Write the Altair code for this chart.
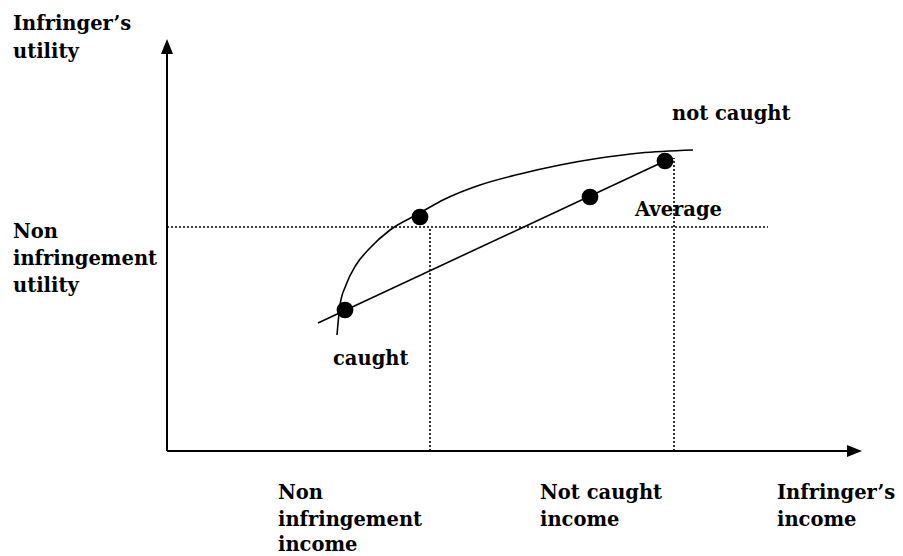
import altair as alt
import pandas as pd

# Concave utility curve (income, utility) in diagram units, origin at the axes' crossing
curve_income = [170, 173, 179, 189, 203, 223, 251, 278, 313, 353, 393, 433, 473, 526]
curve_utility = [116, 146, 166, 186, 203, 221, 237, 252, 266, 277, 286, 293, 298, 301]

# Straight chord between caught and not caught outcomes
chord_income = [151, 498]
chord_utility = [128, 290]

# Dots
dot_income = [178, 253, 423, 498]
dot_utility = [141, 234, 254, 290]

# Reference (dotted) levels
avg_utility_level = 224
avg_line_end = 601
non_infr_income = 263
not_caught_income = 507
not_caught_utility = 293

# Axis extents
x_axis_end = 688
y_axis_end = 406
x_arrow = 687
y_arrow = 404

# Labels
label_text = ["Infringer\u2019s", "utility", "Non", "infringement", "utility",
              "not caught", "Average", "caught",
              "Non", "infringement", "income",
              "Not caught", "income",
              "Infringer\u2019s", "income"]
label_x = [-154, -154, -154, -154, -154, 505, 468, 166, 111, 111, 111, 373, 373, 610, 610]
label_y = [421, 393, 213, 186, 159, 331, 235, 86, -48, -75, -100, -48, -75, -48, -75]

W, H = 887, 548
xs = alt.Scale(domain=[-159, 728])
ys = alt.Scale(domain=[-105, 443])

def X(f):
    return alt.X(f, type="quantitative", scale=xs, axis=None)

def Y(f):
    return alt.Y(f, type="quantitative", scale=ys, axis=None)

curve_df = pd.DataFrame({"x": curve_income, "y": curve_utility})
chord_df = pd.DataFrame({"x": chord_income, "y": chord_utility})
dots_df = pd.DataFrame({"x": dot_income, "y": dot_utility})
labels_df = pd.DataFrame({"x": label_x, "y": label_y, "t": label_text})

hdot_df = pd.DataFrame({"x": [0], "x2": [avg_line_end], "y": [avg_utility_level]})
vdot_df = pd.DataFrame({"x": [non_infr_income, not_caught_income],
                        "y": [0, 0],
                        "y2": [avg_utility_level, not_caught_utility]})
yaxis_df = pd.DataFrame({"x": [0], "y": [0], "y2": [y_axis_end]})
xaxis_df = pd.DataFrame({"x": [0], "x2": [x_axis_end], "y": [0]})
uparrow_df = pd.DataFrame({"x": [0], "y": [y_arrow]})
rightarrow_df = pd.DataFrame({"x": [x_arrow], "y": [0]})

curve = alt.Chart(curve_df).mark_line(color="black", strokeWidth=1.6, interpolate="monotone").encode(
    x=X("x"), y=Y("y"))
chord = alt.Chart(chord_df).mark_line(color="black", strokeWidth=1.6).encode(x=X("x"), y=Y("y"))
dots = alt.Chart(dots_df).mark_point(filled=True, color="black", opacity=1, size=280).encode(
    x=X("x"), y=Y("y"))

hdot = alt.Chart(hdot_df).mark_rule(color="black", strokeWidth=1.6, strokeDash=[2, 2]).encode(
    x=X("x"), x2="x2", y=Y("y"))
vdot = alt.Chart(vdot_df).mark_rule(color="black", strokeWidth=1.6, strokeDash=[2, 2]).encode(
    x=X("x"), y=Y("y"), y2="y2")

yaxis = alt.Chart(yaxis_df).mark_rule(color="black", strokeWidth=2).encode(x=X("x"), y=Y("y"), y2="y2")
xaxis = alt.Chart(xaxis_df).mark_rule(color="black", strokeWidth=2).encode(x=X("x"), x2="x2", y=Y("y"))

uparrow = alt.Chart(uparrow_df).mark_point(
    shape="M0,-1L0.75,0.875L-0.75,0.875Z", filled=True, color="black", opacity=1, size=256
).encode(x=X("x"), y=Y("y"))
rightarrow = alt.Chart(rightarrow_df).mark_point(
    shape="M1,0L-0.875,0.75L-0.875,-0.75Z", filled=True, color="black", opacity=1, size=256
).encode(x=X("x"), y=Y("y"))

labels = alt.Chart(labels_df).mark_text(
    align="left", baseline="alphabetic", font="DejaVu Serif", fontWeight="bold",
    fontSize=19.5, color="black"
).encode(x=X("x"), y=Y("y"), text="t:N")

chart = alt.layer(hdot, vdot, yaxis, xaxis, uparrow, rightarrow, curve, chord, dots, labels).properties(
    width=W, height=H, padding=0, autosize=alt.AutoSizeParams(type="none")
).configure_view(stroke=None)

chart.save("out.html", embed_options={"renderer": "svg", "actions": False})
